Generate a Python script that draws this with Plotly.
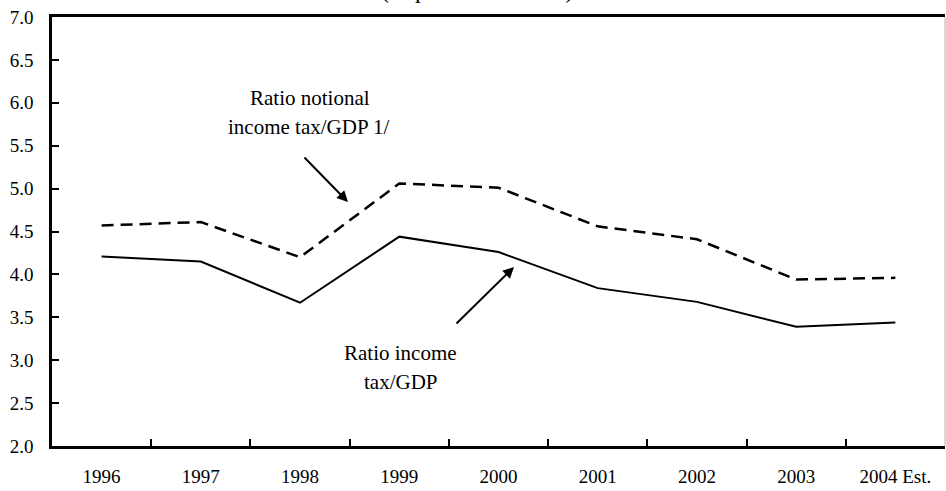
import plotly.graph_objects as go

# Income tax to GDP ratios, in percent
years = ["1996", "1997", "1998", "1999", "2000", "2001", "2002", "2003", "2004 Est."]
income_tax_gdp = [4.21, 4.15, 3.67, 4.44, 4.26, 3.84, 3.68, 3.39, 3.44]
notional_income_tax_gdp = [4.57, 4.61, 4.20, 5.06, 5.01, 4.56, 4.41, 3.94, 3.96]
y_ticks = [2.0, 2.5, 3.0, 3.5, 4.0, 4.5, 5.0, 5.5, 6.0, 6.5, 7.0]

SERIF = "Liberation Serif"

fig = go.Figure()
fig.add_trace(go.Scatter(
    x=years, y=notional_income_tax_gdp, mode="lines",
    line=dict(color="black", width=2.5, dash="12px,7px"),
    name="Ratio notional income tax/GDP 1/", showlegend=False,
))
fig.add_trace(go.Scatter(
    x=years, y=income_tax_gdp, mode="lines",
    line=dict(color="black", width=2),
    name="Ratio income tax/GDP", showlegend=False,
))

# Series labels
label_font = dict(family=SERIF, size=21, color="black")
for text, x, y in [("Ratio notional", 2.1, 6.056), ("income tax/GDP 1/", 2.09, 5.718),
                   ("Ratio income", 3.017, 3.084), ("tax/GDP", 3.017, 2.746)]:
    fig.add_annotation(x=x, y=y, xref="x", yref="y", text=text, showarrow=False,
                       font=label_font, xanchor="center", yanchor="middle")

# Pointer arrows
for hx, hy, ax, ay in [(2.483, 4.844, -45, -46), (4.156, 4.086, -59, 58)]:
    fig.add_annotation(x=hx, y=hy, xref="x", yref="y", ax=ax, ay=ay, text="",
                       showarrow=True, arrowhead=2, arrowsize=1.1, arrowwidth=2,
                       arrowcolor="black", standoff=0)

# Subtitle sitting at the very top edge
fig.add_annotation(x=0.477, y=1.03, xref="paper", yref="paper", text="(In percent of GDP)",
                   showarrow=False, font=dict(family=SERIF, size=24, color="black"),
                   xanchor="center", yanchor="bottom", borderpad=0)

# Light frame on the right side
fig.add_shape(type="line", xref="paper", yref="paper", x0=1, x1=1, y0=0, y1=1,
              line=dict(color="#b4b4b4", width=1))

fig.update_layout(
    width=946, height=491,
    margin=dict(l=52, r=1, t=17, b=45),
    paper_bgcolor="white", plot_bgcolor="white",
    font=dict(family=SERIF, size=19, color="black"),
    showlegend=False,
)
fig.update_xaxes(
    type="category", tickson="boundaries", ticks="inside", ticklen=7, tickwidth=1.5,
    tickcolor="black", showline=True, linecolor="black", linewidth=2.5, mirror=True,
    showgrid=False, zeroline=False, ticklabelstandoff=11,
    tickfont=dict(family=SERIF, size=19, color="black"),
    range=[-0.5, len(years) - 0.5],
)
fig.update_yaxes(
    range=[2.0, 7.0], tickvals=y_ticks, ticktext=[f"{v:.1f}" for v in y_ticks],
    ticks="inside", ticklen=7, tickwidth=1.5, tickcolor="black",
    showline=True, linecolor="black", linewidth=2.5,
    showgrid=False, zeroline=False, ticklabelstandoff=12,
    tickfont=dict(family=SERIF, size=19, color="black"),
)

fig.write_html("out.html")
